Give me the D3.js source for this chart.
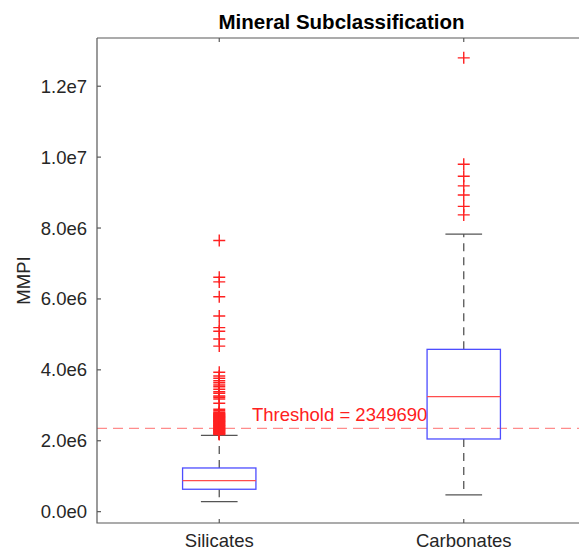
<!DOCTYPE html>
<html>
<head>
<meta charset="utf-8">
<script src="https://cdn.jsdelivr.net/npm/d3@7"></script>
<style>
  body { margin: 0; background: #fff; }
  svg { display: block; font-family: "Liberation Sans", Arial, Helvetica, sans-serif; }
</style>
</head>
<body>
<div id="app"></div>
<script>
// data (values in MMPI)
var categories = ['Silicates', 'Carbonates'];
var q1 = [0.632e6, 2.05e6];
var medians = [0.874e6, 3.242e6];
var q3 = [1.232e6, 4.578e6];
var whiskerLow = [0.282e6, 0.471e6];
var whiskerHigh = [2.154e6, 7.83e6];
var silicatesOutliers = [
  7.65e6, 6.61e6, 6.48e6, 6.06e6, 5.52e6, 5.19e6, 5.09e6, 4.87e6, 4.67e6,
  3.93e6, 3.826e6, 3.761e6, 3.693e6, 3.637e6, 3.572e6, 3.524e6, 3.451e6, 3.383e6,
  3.338e6, 3.262e6, 3.225e6, 3.177e6, 3.056e6, 2.887e6, 2.847e6, 2.802e6,
  2.78e6, 2.765e6, 2.75e6, 2.735e6, 2.72e6, 2.70e6, 2.685e6, 2.67e6, 2.655e6,
  2.64e6, 2.625e6, 2.61e6, 2.595e6, 2.58e6, 2.565e6, 2.55e6, 2.535e6, 2.52e6,
  2.505e6, 2.49e6, 2.475e6, 2.46e6, 2.445e6, 2.43e6, 2.415e6, 2.40e6, 2.385e6,
  2.37e6, 2.355e6, 2.34e6, 2.325e6, 2.31e6, 2.295e6, 2.28e6, 2.265e6, 2.25e6,
  2.235e6, 2.22e6, 2.205e6, 2.19e6, 2.175e6
];
var carbonatesOutliers = [12.8e6, 9.80e6, 9.46e6, 9.19e6, 8.93e6, 8.61e6, 8.37e6];
var outliers = [silicatesOutliers, carbonatesOutliers];
var threshold = 2349690;
var yTickValues = [0, 2e6, 4e6, 6e6, 8e6, 10e6, 12e6];
var yTickLabels = ['0.0e0', '2.0e6', '4.0e6', '6.0e6', '8.0e6', '1.0e7', '1.2e7'];

var width = 579, height = 551;
var plotLeft = 97, plotRight = 586, plotTop = 38, plotBottom = 523;
var axisColor = '#595959', textColor = '#262626';

var svg = d3.select('#app').append('svg')
  .attr('width', width)
  .attr('height', height)
  .style('overflow', 'hidden');

var x = d3.scaleLinear().domain([0.5, 2.5]).range([plotLeft, plotRight]);
var y = d3.scaleLinear().domain([-0.32e6, 13.36e6]).range([plotBottom, plotTop]);
var boxHalf = 0.15, capHalf = 0.075;

// title
svg.append('text')
  .attr('x', (plotLeft + plotRight) / 2)
  .attr('y', 29)
  .attr('text-anchor', 'middle')
  .style('font-size', '20.5px')
  .style('font-weight', 'bold')
  .attr('fill', '#000')
  .text('Mineral Subclassification');

// y axis label
svg.append('text')
  .attr('transform', 'translate(30,' + (plotTop + plotBottom) / 2 + ') rotate(-90)')
  .attr('text-anchor', 'middle')
  .style('font-size', '18.5px')
  .attr('fill', textColor)
  .text('MMPI');

// threshold line
svg.append('line')
  .attr('x1', plotLeft).attr('x2', plotRight)
  .attr('y1', y(threshold)).attr('y2', y(threshold))
  .attr('stroke', '#ff8c8c')
  .attr('stroke-width', 1.2)
  .attr('stroke-dasharray', '10,6');

svg.append('text')
  .attr('x', 252)
  .attr('y', y(threshold) - 7)
  .style('font-size', '18.5px')
  .attr('fill', '#ff2020')
  .text('Threshold = ' + threshold);

// boxes
var g = svg.append('g').attr('class', 'boxes');
categories.forEach(function (c, i) {
  var cx = x(i + 1);
  // whiskers
  g.append('line')
    .attr('x1', cx).attr('x2', cx)
    .attr('y1', y(q3[i])).attr('y2', y(whiskerHigh[i]))
    .attr('stroke', '#555').attr('stroke-width', 1.3)
    .attr('stroke-dasharray', '8,6');
  g.append('line')
    .attr('x1', cx).attr('x2', cx)
    .attr('y1', y(q1[i])).attr('y2', y(whiskerLow[i]))
    .attr('stroke', '#555').attr('stroke-width', 1.3)
    .attr('stroke-dasharray', '8,6');
  // caps
  [whiskerLow[i], whiskerHigh[i]].forEach(function (v) {
    g.append('line')
      .attr('x1', x(i + 1 - capHalf)).attr('x2', x(i + 1 + capHalf))
      .attr('y1', y(v)).attr('y2', y(v))
      .attr('stroke', '#555').attr('stroke-width', 1.3);
  });
  // box
  g.append('rect')
    .attr('x', x(i + 1 - boxHalf))
    .attr('y', y(q3[i]))
    .attr('width', x(i + 1 + boxHalf) - x(i + 1 - boxHalf))
    .attr('height', y(q1[i]) - y(q3[i]))
    .attr('fill', 'none')
    .attr('stroke', '#4d4dff')
    .attr('stroke-width', 1.3);
  // median
  g.append('line')
    .attr('x1', x(i + 1 - boxHalf)).attr('x2', x(i + 1 + boxHalf))
    .attr('y1', y(medians[i])).attr('y2', y(medians[i]))
    .attr('stroke', '#ff4d4d').attr('stroke-width', 1.3);
  // outliers
  g.selectAll('path.out' + i)
    .data(outliers[i])
    .enter()
    .append('path')
    .attr('class', 'out' + i)
    .attr('d', function (d) {
      return 'M' + (cx - 6) + ',' + y(d) + 'H' + (cx + 6) + 'M' + cx + ',' + (y(d) - 6) + 'V' + (y(d) + 6);
    })
    .attr('stroke', '#ff2020')
    .attr('stroke-width', 1.4)
    .attr('fill', 'none');
});

// axes frame
svg.append('path')
  .attr('d', 'M' + plotLeft + ',' + plotTop + 'H' + plotRight + 'M' + plotLeft + ',' + plotTop + 'V' + plotBottom + 'H' + plotRight)
  .attr('stroke', axisColor)
  .attr('stroke-width', 1.2)
  .attr('fill', 'none');

// y ticks
yTickValues.forEach(function (v, i) {
  svg.append('line')
    .attr('x1', plotLeft).attr('x2', plotLeft + 4)
    .attr('y1', y(v)).attr('y2', y(v))
    .attr('stroke', axisColor).attr('stroke-width', 1.2);
  svg.append('text')
    .attr('x', plotLeft - 10)
    .attr('y', y(v))
    .attr('dy', '0.35em')
    .attr('text-anchor', 'end')
    .style('font-size', '18.5px')
    .attr('fill', textColor)
    .text(yTickLabels[i]);
});

// x ticks
categories.forEach(function (c, i) {
  var cx = x(i + 1);
  svg.append('line')
    .attr('x1', cx).attr('x2', cx)
    .attr('y1', plotBottom).attr('y2', plotBottom - 4)
    .attr('stroke', axisColor).attr('stroke-width', 1.2);
  svg.append('line')
    .attr('x1', cx).attr('x2', cx)
    .attr('y1', plotTop).attr('y2', plotTop + 4)
    .attr('stroke', axisColor).attr('stroke-width', 1.2);
  svg.append('text')
    .attr('x', cx)
    .attr('y', 547)
    .attr('text-anchor', 'middle')
    .style('font-size', '18.5px')
    .attr('fill', textColor)
    .text(c);
});
</script>
</body>
</html>
